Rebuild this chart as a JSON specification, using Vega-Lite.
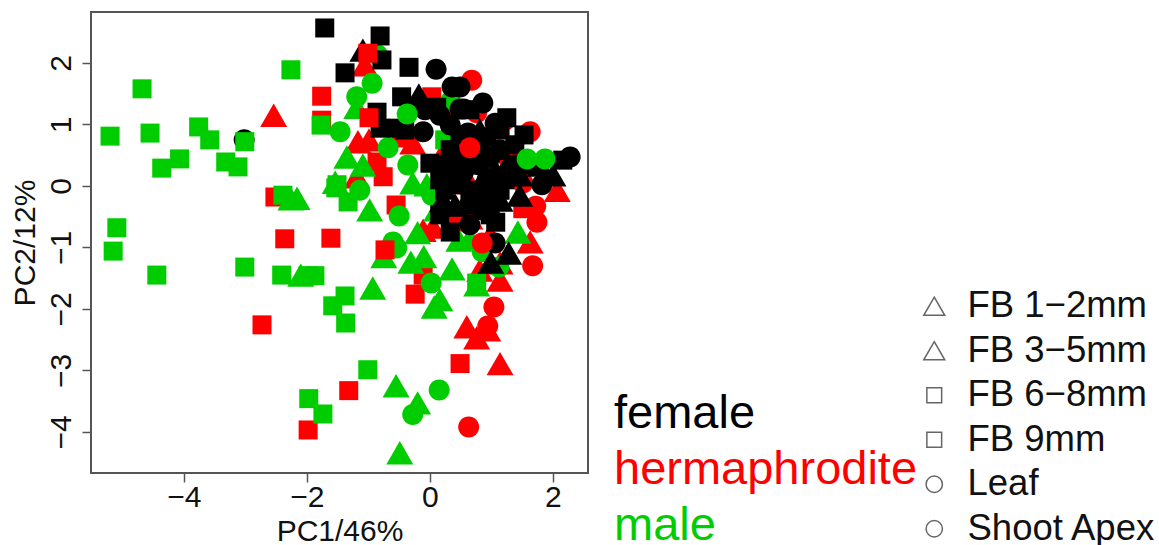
{"$schema":"https://vega.github.io/schema/vega-lite/v6.json","autosize":"none","padding":{"left":91,"top":12,"right":571,"bottom":72},"width":497,"height":461,"background":"white","config":{"view":{"stroke":"#555555","strokeWidth":2},"font":"Liberation Sans"},
"data":{"values":[
{"x":-2.54,"y":1.15,"s":"hermaphrodite","t":"FB 3−5mm"},{"x":-1.76,"y":1.46,"s":"hermaphrodite","t":"FB 6−8mm"},{"x":-1.76,"y":1.07,"s":"hermaphrodite","t":"FB 9mm"},{"x":-2.52,"y":-0.18,"s":"hermaphrodite","t":"FB 6−8mm"},{"x":-2.36,"y":-0.86,"s":"hermaphrodite","t":"FB 9mm"},{"x":-1.61,"y":-0.85,"s":"hermaphrodite","t":"FB 6−8mm"},{"x":-2.73,"y":-2.26,"s":"hermaphrodite","t":"FB 9mm"},{"x":-1.32,"y":-3.33,"s":"hermaphrodite","t":"FB 6−8mm"},{"x":-1.98,"y":-3.97,"s":"hermaphrodite","t":"FB 9mm"},{"x":0.49,"y":-2.89,"s":"hermaphrodite","t":"FB 6−8mm"},{"x":1.14,"y":-2.89,"s":"hermaphrodite","t":"FB 3−5mm"},{"x":0.63,"y":-3.92,"s":"hermaphrodite","t":"Leaf"},{"x":0.6,"y":-2.29,"s":"hermaphrodite","t":"FB 1−2mm"},{"x":0.76,"y":-2.47,"s":"hermaphrodite","t":"FB 3−5mm"},{"x":0.94,"y":-2.34,"s":"hermaphrodite","t":"FB 1−2mm"},{"x":0.94,"y":-2.28,"s":"hermaphrodite","t":"Leaf"},{"x":1.04,"y":-1.97,"s":"hermaphrodite","t":"Shoot Apex"},{"x":-0.24,"y":-1.76,"s":"hermaphrodite","t":"FB 9mm"},{"x":-0.11,"y":-1.45,"s":"hermaphrodite","t":"FB 6−8mm"},{"x":1.67,"y":-1.3,"s":"hermaphrodite","t":"Leaf"},{"x":1.63,"y":-0.91,"s":"hermaphrodite","t":"FB 1−2mm"},{"x":1.14,"y":-1.53,"s":"hermaphrodite","t":"FB 3−5mm"},{"x":0.81,"y":-1.37,"s":"hermaphrodite","t":"FB 1−2mm"},{"x":0.49,"y":-0.52,"s":"hermaphrodite","t":"FB 3−5mm"},{"x":0.65,"y":-0.52,"s":"hermaphrodite","t":"FB 1−2mm"},{"x":1.51,"y":-0.37,"s":"hermaphrodite","t":"FB 9mm"},{"x":1.72,"y":-0.33,"s":"hermaphrodite","t":"Leaf"},{"x":1.74,"y":-0.59,"s":"hermaphrodite","t":"Shoot Apex"},{"x":2.07,"y":-0.07,"s":"hermaphrodite","t":"FB 3−5mm"},{"x":0.05,"y":-0.67,"s":"hermaphrodite","t":"FB 1−2mm"},{"x":-0.11,"y":-0.72,"s":"hermaphrodite","t":"FB 3−5mm"},{"x":0.36,"y":-0.55,"s":"hermaphrodite","t":"FB 1−2mm"},{"x":-0.55,"y":-0.31,"s":"hermaphrodite","t":"FB 6−8mm"},{"x":-1.19,"y":0.15,"s":"hermaphrodite","t":"FB 3−5mm"},{"x":-0.76,"y":0.15,"s":"hermaphrodite","t":"FB 9mm"},{"x":-0.86,"y":0.39,"s":"hermaphrodite","t":"FB 6−8mm"},{"x":-1.17,"y":0.72,"s":"hermaphrodite","t":"FB 1−2mm"},{"x":-0.99,"y":0.75,"s":"hermaphrodite","t":"FB 3−5mm"},{"x":-0.46,"y":0.78,"s":"hermaphrodite","t":"FB 9mm"},{"x":-0.28,"y":0.7,"s":"hermaphrodite","t":"FB 1−2mm"},{"x":0.03,"y":1.4,"s":"hermaphrodite","t":"FB 3−5mm"},{"x":0.28,"y":1.19,"s":"hermaphrodite","t":"FB 6−8mm"},{"x":0.68,"y":1.72,"s":"hermaphrodite","t":"Leaf"},{"x":0.76,"y":1.19,"s":"hermaphrodite","t":"Shoot Apex"},{"x":1.22,"y":1.07,"s":"hermaphrodite","t":"Leaf"},{"x":1.63,"y":0.88,"s":"hermaphrodite","t":"Shoot Apex"},{"x":1.27,"y":0.46,"s":"hermaphrodite","t":"Leaf"},{"x":1.51,"y":0.05,"s":"hermaphrodite","t":"Shoot Apex"},{"x":0.65,"y":0.05,"s":"hermaphrodite","t":"FB 1−2mm"},{"x":0.24,"y":0.59,"s":"hermaphrodite","t":"FB 3−5mm"},{"x":1.14,"y":-1.25,"s":"hermaphrodite","t":"FB 1−2mm"},{"x":0.98,"y":-0.8,"s":"hermaphrodite","t":"FB 3−5mm"},{"x":0.03,"y":1.45,"s":"hermaphrodite","t":"FB 9mm"},{"x":-1.06,"y":1.97,"s":"hermaphrodite","t":"FB 1−2mm"},
{"x":-2.26,"y":1.89,"s":"male","t":"FB 6−8mm"},{"x":-4.68,"y":1.58,"s":"male","t":"FB 9mm"},{"x":-5.2,"y":0.81,"s":"male","t":"FB 6−8mm"},{"x":-4.55,"y":0.86,"s":"male","t":"FB 9mm"},{"x":-3.76,"y":0.96,"s":"male","t":"FB 6−8mm"},{"x":-3.58,"y":0.75,"s":"male","t":"FB 9mm"},{"x":-4.07,"y":0.44,"s":"male","t":"FB 6−8mm"},{"x":-4.36,"y":0.29,"s":"male","t":"FB 9mm"},{"x":-3.32,"y":0.39,"s":"male","t":"FB 6−8mm"},{"x":-3.12,"y":0.31,"s":"male","t":"FB 9mm"},{"x":-3.02,"y":0.75,"s":"female","t":"Leaf"},{"x":-3.01,"y":0.72,"s":"male","t":"FB 6−8mm"},{"x":-5.09,"y":-0.68,"s":"male","t":"FB 9mm"},{"x":-5.15,"y":-1.06,"s":"male","t":"FB 6−8mm"},{"x":-4.44,"y":-1.45,"s":"male","t":"FB 9mm"},{"x":-3.01,"y":-1.32,"s":"male","t":"FB 6−8mm"},{"x":-2.39,"y":-0.15,"s":"male","t":"FB 9mm"},{"x":-2.16,"y":-0.2,"s":"male","t":"FB 1−2mm"},{"x":-2.26,"y":-0.21,"s":"male","t":"FB 3−5mm"},{"x":-1.77,"y":0.99,"s":"male","t":"FB 6−8mm"},{"x":-1.46,"y":0.88,"s":"male","t":"Leaf"},{"x":-1.54,"y":0.06,"s":"male","t":"FB 1−2mm"},{"x":-1.53,"y":-0.03,"s":"male","t":"FB 9mm"},{"x":-2.41,"y":-1.45,"s":"male","t":"FB 6−8mm"},{"x":-2.1,"y":-1.45,"s":"male","t":"FB 3−5mm"},{"x":-1.98,"y":-1.46,"s":"male","t":"FB 9mm"},{"x":-1.87,"y":-1.46,"s":"male","t":"FB 6−8mm"},{"x":-1.38,"y":-1.79,"s":"male","t":"FB 9mm"},{"x":-1.58,"y":-1.95,"s":"male","t":"FB 6−8mm"},{"x":-1.37,"y":-2.23,"s":"male","t":"FB 9mm"},{"x":-0.93,"y":-1.66,"s":"male","t":"FB 3−5mm"},{"x":-1.01,"y":-2.99,"s":"male","t":"FB 6−8mm"},{"x":-1.97,"y":-3.46,"s":"male","t":"FB 9mm"},{"x":-1.74,"y":-3.71,"s":"male","t":"FB 6−8mm"},{"x":-0.55,"y":-3.25,"s":"male","t":"FB 1−2mm"},{"x":0.15,"y":-3.32,"s":"male","t":"Leaf"},{"x":-0.2,"y":-3.53,"s":"male","t":"FB 3−5mm"},{"x":-0.28,"y":-3.72,"s":"male","t":"Shoot Apex"},{"x":-0.49,"y":-4.34,"s":"male","t":"FB 1−2mm"},{"x":-0.75,"y":-1.15,"s":"male","t":"FB 3−5mm"},{"x":-0.6,"y":-0.91,"s":"male","t":"Leaf"},{"x":-0.54,"y":-1.01,"s":"male","t":"Shoot Apex"},{"x":-0.73,"y":-1.04,"s":"hermaphrodite","t":"FB 6−8mm"},{"x":-0.31,"y":-1.24,"s":"male","t":"FB 1−2mm"},{"x":-0.1,"y":-1.15,"s":"male","t":"FB 3−5mm"},{"x":0.36,"y":-1.35,"s":"male","t":"FB 1−2mm"},{"x":0.02,"y":-1.58,"s":"male","t":"Leaf"},{"x":0.16,"y":-1.85,"s":"male","t":"FB 3−5mm"},{"x":0.07,"y":-1.97,"s":"male","t":"FB 1−2mm"},{"x":0.76,"y":-1.61,"s":"male","t":"FB 3−5mm"},{"x":0.76,"y":-1.58,"s":"male","t":"FB 9mm"},{"x":-0.5,"y":-0.49,"s":"male","t":"Shoot Apex"},{"x":-1.35,"y":0.47,"s":"male","t":"FB 1−2mm"},{"x":-1.09,"y":0.34,"s":"male","t":"FB 3−5mm"},{"x":-1.14,"y":-0.07,"s":"male","t":"Leaf"},{"x":-1.51,"y":0.02,"s":"male","t":"FB 6−8mm"},{"x":-1.33,"y":-0.26,"s":"male","t":"FB 9mm"},{"x":-0.98,"y":-0.39,"s":"male","t":"FB 1−2mm"},{"x":-0.36,"y":0.34,"s":"male","t":"Shoot Apex"},{"x":-0.28,"y":0.05,"s":"male","t":"FB 3−5mm"},{"x":-0.05,"y":0.02,"s":"male","t":"FB 1−2mm"},{"x":0.03,"y":-0.15,"s":"male","t":"Leaf"},{"x":0.11,"y":-0.39,"s":"male","t":"FB 3−5mm"},{"x":0.24,"y":0.75,"s":"male","t":"FB 6−8mm"},{"x":-0.68,"y":0.62,"s":"male","t":"Shoot Apex"},{"x":-1.19,"y":1.28,"s":"male","t":"FB 1−2mm"},{"x":-1.19,"y":1.45,"s":"male","t":"Leaf"},{"x":-0.94,"y":1.67,"s":"male","t":"Shoot Apex"},{"x":-0.85,"y":2.13,"s":"male","t":"Leaf"},{"x":-0.2,"y":-0.76,"s":"male","t":"FB 3−5mm"},{"x":0.47,"y":-0.88,"s":"male","t":"FB 1−2mm"},{"x":0.65,"y":-0.85,"s":"male","t":"FB 3−5mm"},{"x":1.43,"y":-0.75,"s":"male","t":"FB 1−2mm"},{"x":0.85,"y":-1.07,"s":"male","t":"Leaf"},{"x":1.12,"y":-1.32,"s":"male","t":"Shoot Apex"},{"x":0.33,"y":1.37,"s":"male","t":"Leaf"},
{"x":-1.71,"y":2.57,"s":"female","t":"FB 9mm"},{"x":-0.81,"y":2.44,"s":"female","t":"FB 6−8mm"},{"x":-1.09,"y":2.21,"s":"female","t":"FB 3−5mm"},{"x":-0.78,"y":2.05,"s":"female","t":"FB 9mm"},{"x":-1.38,"y":1.84,"s":"female","t":"FB 6−8mm"},{"x":-0.34,"y":1.93,"s":"female","t":"FB 9mm"},{"x":0.1,"y":1.9,"s":"female","t":"Leaf"},{"x":-0.86,"y":1.2,"s":"female","t":"FB 6−8mm"},{"x":-0.81,"y":0.94,"s":"female","t":"FB 9mm"},{"x":-0.52,"y":0.94,"s":"female","t":"FB 6−8mm"},{"x":-0.46,"y":1.45,"s":"female","t":"FB 9mm"},{"x":-0.18,"y":1.48,"s":"female","t":"FB 1−2mm"},{"x":0.11,"y":1.28,"s":"female","t":"FB 6−8mm"},{"x":0.36,"y":1.61,"s":"female","t":"Leaf"},{"x":0.49,"y":1.61,"s":"female","t":"Shoot Apex"},{"x":0.49,"y":1.25,"s":"female","t":"Leaf"},{"x":-0.11,"y":0.88,"s":"female","t":"Shoot Apex"},{"x":0,"y":0.37,"s":"female","t":"FB 9mm"},{"x":0.28,"y":0.15,"s":"female","t":"FB 6−8mm"},{"x":0.33,"y":0.26,"s":"female","t":"FB 9mm"},{"x":0.86,"y":1.35,"s":"female","t":"Leaf"},{"x":0.55,"y":1.25,"s":"female","t":"Shoot Apex"},{"x":1.06,"y":1.02,"s":"female","t":"Leaf"},{"x":1.25,"y":1.11,"s":"female","t":"FB 6−8mm"},{"x":1.53,"y":0.83,"s":"female","t":"FB 9mm"},{"x":0.62,"y":0.86,"s":"female","t":"Shoot Apex"},{"x":0.93,"y":0.8,"s":"female","t":"FB 6−8mm"},{"x":0.98,"y":0.47,"s":"female","t":"Leaf"},{"x":0.93,"y":0.1,"s":"female","t":"Shoot Apex"},{"x":0.49,"y":0.47,"s":"female","t":"Leaf"},{"x":0.54,"y":0.21,"s":"female","t":"Shoot Apex"},{"x":1.27,"y":0.37,"s":"female","t":"FB 3−5mm"},{"x":2.16,"y":0.42,"s":"female","t":"FB 9mm"},{"x":2.28,"y":0.47,"s":"female","t":"Leaf"},{"x":2,"y":0.18,"s":"female","t":"FB 1−2mm"},{"x":1.82,"y":0.02,"s":"female","t":"Shoot Apex"},{"x":0.6,"y":-0.23,"s":"female","t":"FB 3−5mm"},{"x":0.86,"y":-0.39,"s":"female","t":"Leaf"},{"x":1.07,"y":-0.59,"s":"female","t":"FB 6−8mm"},{"x":1.06,"y":-0.93,"s":"female","t":"Shoot Apex"},{"x":1.28,"y":-1.09,"s":"female","t":"FB 1−2mm"},{"x":0.99,"y":-1.24,"s":"female","t":"FB 3−5mm"},{"x":0.33,"y":-0.75,"s":"female","t":"FB 9mm"},{"x":0.24,"y":-0.07,"s":"female","t":"FB 6−8mm"},{"x":1.14,"y":-0.07,"s":"female","t":"FB 9mm"},{"x":1.46,"y":0.18,"s":"female","t":"FB 1−2mm"},{"x":0.65,"y":-0.07,"s":"female","t":"FB 6−8mm"},{"x":1.14,"y":0.59,"s":"female","t":"Leaf"},{"x":0.81,"y":0.34,"s":"female","t":"Shoot Apex"},{"x":0.16,"y":-0.47,"s":"female","t":"FB 9mm"},{"x":0.81,"y":0.91,"s":"female","t":"FB 3−5mm"},
{"x":0.33,"y":0.59,"s":"female","t":"FB 6−8mm"},{"x":0.65,"y":0.34,"s":"female","t":"FB 9mm"},{"x":0.24,"y":0.34,"s":"female","t":"Leaf"},{"x":0.41,"y":0.02,"s":"female","t":"FB 6−8mm"},{"x":0.73,"y":-0.31,"s":"female","t":"FB 9mm"},{"x":0.98,"y":-0.15,"s":"female","t":"Shoot Apex"},{"x":1.22,"y":0.1,"s":"female","t":"FB 6−8mm"},{"x":1.38,"y":0.34,"s":"female","t":"Leaf"},{"x":1.14,"y":0.91,"s":"female","t":"FB 9mm"},{"x":1.38,"y":0.67,"s":"female","t":"FB 6−8mm"},{"x":0.81,"y":0.59,"s":"female","t":"Shoot Apex"},{"x":0.49,"y":0.83,"s":"female","t":"FB 9mm"},{"x":1.06,"y":0.26,"s":"female","t":"FB 1−2mm"},{"x":0.81,"y":0.02,"s":"female","t":"FB 3−5mm"},{"x":0.41,"y":-0.31,"s":"female","t":"FB 1−2mm"},{"x":0.98,"y":-0.47,"s":"female","t":"FB 9mm"},{"x":0.65,"y":-0.63,"s":"female","t":"Leaf"},{"x":1.63,"y":0.34,"s":"female","t":"FB 6−8mm"},{"x":0.16,"y":0.1,"s":"female","t":"FB 9mm"},{"x":1.79,"y":0.34,"s":"female","t":"FB 3−5mm"},{"x":0.16,"y":1.15,"s":"female","t":"Shoot Apex"},{"x":-0.08,"y":1.24,"s":"female","t":"Leaf"},{"x":0.33,"y":0.99,"s":"female","t":"Shoot Apex"},{"x":0.65,"y":1.24,"s":"female","t":"FB 6−8mm"},{"x":1.14,"y":-0.23,"s":"female","t":"FB 1−2mm"},{"x":1.46,"y":-0.15,"s":"female","t":"FB 3−5mm"},{"x":0.21,"y":-0.23,"s":"female","t":"FB 1−2mm"},{"x":-0.41,"y":0.91,"s":"female","t":"FB 9mm"},
{"x":0.65,"y":0.62,"s":"hermaphrodite","t":"Leaf"},{"x":-0.99,"y":1.11,"s":"hermaphrodite","t":"FB 6−8mm"},{"x":-1.01,"y":2.16,"s":"hermaphrodite","t":"FB 9mm"},{"x":-0.37,"y":1.17,"s":"male","t":"Leaf"},{"x":1.58,"y":0.44,"s":"male","t":"Leaf"},{"x":1.87,"y":0.44,"s":"male","t":"Shoot Apex"},{"x":0.85,"y":-0.93,"s":"hermaphrodite","t":"Shoot Apex"}
]},
"mark":{"type":"point","filled":true,"opacity":1,"clip":true,"size":729},
"encoding":{
"x":{"field":"x","type":"quantitative","title":"PC1/46%","scale":{"domain":[-5.51,2.57],"nice":false,"zero":false},"axis":{"grid":false,"values":[-4,-2,0,2],"domain":false,"tickColor":"#555555","tickWidth":1.5,"tickSize":9,"labelFontSize":30,"labelColor":"#111111","labelPadding":0,"titleFontSize":30,"titleFontWeight":"normal","titleColor":"#111111","titlePadding":4,"labelFlush":false}},
"y":{"field":"y","type":"quantitative","title":"PC2/12%","scale":{"domain":[-4.67,2.83],"nice":false,"zero":false},"axis":{"grid":false,"values":[-4,-3,-2,-1,0,1,2],"domain":false,"tickColor":"#555555","tickWidth":1.5,"tickSize":9,"labelFontSize":30,"labelColor":"#111111","labelAngle":-90,"labelAlign":"center","labelBaseline":"bottom","labelPadding":6,"titleFontSize":30,"titleFontWeight":"normal","titleColor":"#111111","titlePadding":6}},
"color":{"field":"s","type":"nominal","scale":{"domain":["female","hermaphrodite","male"],"range":["#000000","#FF0000","#00CD00"]},"legend":{"orient":"none","legendX":476,"legendY":378,"title":null,"symbolSize":0,"symbolOpacity":0,"symbolOffset":0,"symbolStrokeWidth":0,"labelOffset":0,"labelFontSize":47,"rowPadding":8,"labelLimit":400,"encode":{"labels":{"update":{"fill":{"signal":"datum.label==='female'?'#000000':datum.label==='male'?'#00CD00':'#FF0000'"}}}}}},
"shape":{"field":"t","type":"nominal","scale":{"domain":["FB 1−2mm","FB 3−5mm","FB 6−8mm","FB 9mm","Leaf","Shoot Apex"],"range":["M0,-0.866L1,0.866L-1,0.866Z","M0,-0.866L1,0.866L-1,0.866Z","M-0.704,-0.704L0.704,-0.704L0.704,0.704L-0.704,0.704Z","M-0.704,-0.704L0.704,-0.704L0.704,0.704L-0.704,0.704Z","M-0.778,0A0.778,0.778,0,1,0,0.778,0A0.778,0.778,0,1,0,-0.778,0Z","M-0.778,0A0.778,0.778,0,1,0,0.778,0A0.778,0.778,0,1,0,-0.778,0Z"]},"legend":{"orient":"none","legendX":825,"legendY":276,"title":null,"labelFontSize":36.5,"labelColor":"#111111","labelOffset":15,"rowPadding":7.5,"labelLimit":400,"symbolSize":441,"symbolStrokeColor":"#666666","symbolFillColor":"transparent","symbolStrokeWidth":1.5}}
}}
